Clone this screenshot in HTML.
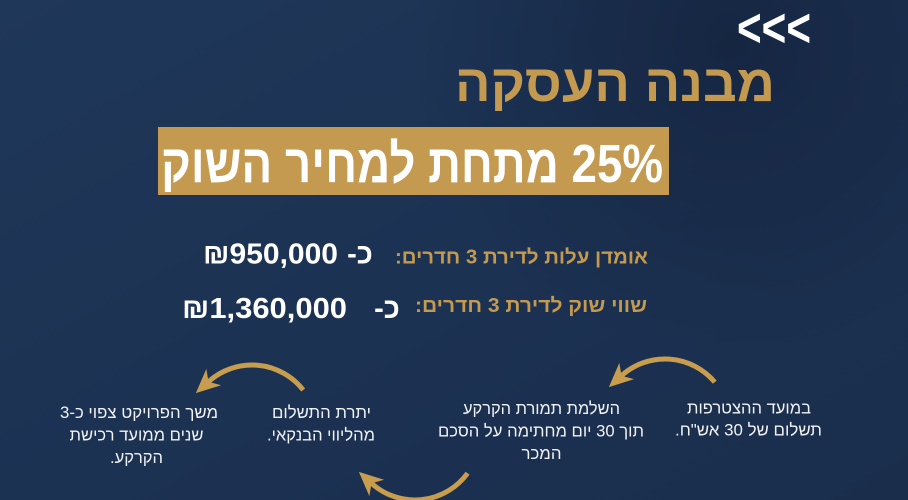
<!DOCTYPE html>
<html><head><meta charset="utf-8">
<style>
html,body{margin:0;padding:0;background:#1c3152;}
svg{display:block;}
text{font-family:"Liberation Sans","DejaVu Sans",sans-serif;}
</style></head>
<body>
<svg width="908" height="500" viewBox="0 0 908 500" xmlns="http://www.w3.org/2000/svg">
<defs>
 <linearGradient id="bg" x1="0" y1="0" x2="1" y2="1">
  <stop offset="0" stop-color="#1f3759"/>
  <stop offset="0.5" stop-color="#1c3253"/>
  <stop offset="1" stop-color="#1a2e4c"/>
 </linearGradient>
 <radialGradient id="dk" cx="730" cy="40" r="320" gradientUnits="userSpaceOnUse">
  <stop offset="0" stop-color="#0f1c33" stop-opacity="0.55"/>
  <stop offset="1" stop-color="#0f1c33" stop-opacity="0"/>
 </radialGradient>
 <marker id="ah" markerUnits="userSpaceOnUse" markerWidth="30" markerHeight="26" viewBox="0 -13 30 26" refX="9" refY="0" orient="auto">
  <path d="M26,0 L2,-11 L9,0 L2,11 Z" fill="#c89d4e"/>
 </marker>
</defs>
<rect x="0" y="0" width="908" height="500" fill="url(#bg)"/>
<rect x="0" y="0" width="908" height="500" fill="url(#dk)"/>

<!-- chevrons -->
<text transform="translate(774,28.5) scale(1,1.3)" x="0" y="14" font-size="42" font-weight="bold" fill="#ffffff" text-anchor="middle" textLength="74" lengthAdjust="spacingAndGlyphs">&lt;&lt;&lt;</text>

<!-- title -->
<text x="615" y="101" font-size="52" font-weight="bold" fill="#c49a50" direction="rtl" text-anchor="middle" textLength="320" lengthAdjust="spacingAndGlyphs">מבנה העסקה</text>

<!-- gold box -->
<rect x="158" y="127" width="511" height="68" fill="#c49a50"/>
<text x="412" y="182" font-size="54" font-weight="bold" fill="#ffffff" direction="rtl" text-anchor="middle" textLength="502" lengthAdjust="spacingAndGlyphs">25% מתחת למחיר השוק</text>

<!-- line 1 -->
<text x="521.5" y="263.5" font-size="20" font-weight="bold" fill="#c49a50" direction="rtl" text-anchor="middle" textLength="253" lengthAdjust="spacingAndGlyphs">אומדן עלות לדירת 3 חדרים:</text>
<text x="360" y="263.5" font-size="29" font-weight="bold" fill="#ffffff" direction="rtl" text-anchor="middle">כ-</text>
<text x="270.5" y="263.5" font-size="29" font-weight="bold" fill="#ffffff" text-anchor="middle" textLength="135" lengthAdjust="spacingAndGlyphs">₪950,000</text>

<!-- line 2 -->
<text x="531" y="312" font-size="20" font-weight="bold" fill="#c49a50" direction="rtl" text-anchor="middle" textLength="232" lengthAdjust="spacingAndGlyphs">שווי שוק לדירת 3 חדרים:</text>
<text x="387" y="318" font-size="29" font-weight="bold" fill="#ffffff" direction="rtl" text-anchor="middle">כ-</text>
<text x="264.5" y="318" font-size="29" font-weight="bold" fill="#ffffff" text-anchor="middle" textLength="165" lengthAdjust="spacingAndGlyphs">₪1,360,000</text>

<!-- arrows -->
<path d="M714.8,382.2 A65,65 0 0 0 621.5,375.7" fill="none" stroke="#c89d4e" stroke-width="5" marker-end="url(#ah)"/>
<path d="M303.2,390 A65,65 0 0 0 208.5,381.7" fill="none" stroke="#c89d4e" stroke-width="5" marker-end="url(#ah)"/>
<path d="M467.6,473.2 A65,65 0 0 1 371.5,483.3" fill="none" stroke="#c89d4e" stroke-width="5" marker-end="url(#ah)"/>

<!-- bottom texts -->
<g font-size="17" fill="#f1f2f4" direction="rtl" text-anchor="middle">
 <text x="749" y="413.5" textLength="124" lengthAdjust="spacingAndGlyphs">במועד ההצטרפות</text>
 <text x="748.5" y="435.7" textLength="147" lengthAdjust="spacingAndGlyphs">תשלום של 30 אש"ח.</text>

 <text x="541.5" y="414" textLength="157" lengthAdjust="spacingAndGlyphs">השלמת תמורת הקרקע</text>
 <text x="541" y="436.5" textLength="206" lengthAdjust="spacingAndGlyphs">תוך 30 יום מחתימה על הסכם</text>
 <text x="541.5" y="459" textLength="40" lengthAdjust="spacingAndGlyphs">המכר</text>

 <text x="321.5" y="418" textLength="99" lengthAdjust="spacingAndGlyphs">יתרת התשלום</text>
 <text x="321" y="440.5" textLength="108" lengthAdjust="spacingAndGlyphs">מהליווי הבנקאי.</text>

 <text x="139" y="418" textLength="158" lengthAdjust="spacingAndGlyphs">משך הפרויקט צפוי כ-3</text>
 <text x="136.5" y="440.5" textLength="134" lengthAdjust="spacingAndGlyphs">שנים ממועד רכישת</text>
 <text x="136.5" y="463" textLength="53" lengthAdjust="spacingAndGlyphs">הקרקע.</text>
</g>
</svg>
</body></html>
